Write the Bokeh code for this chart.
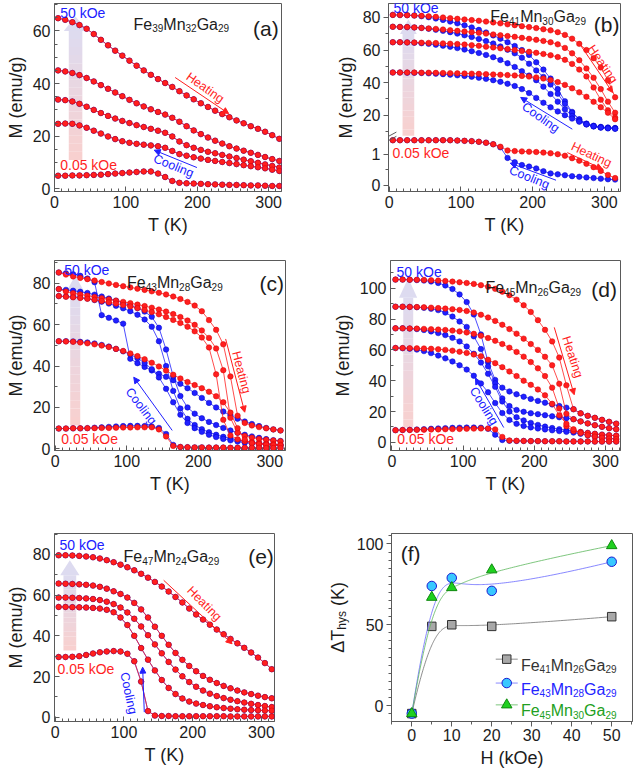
import numpy as np
from bokeh.plotting import figure
from bokeh.layouts import column, row
from bokeh.models import (Range1d, SingleIntervalTicker, FixedTicker, Label,
                          Arrow, NormalHead)
from bokeh.embed import file_html
from bokeh.resources import INLINE

# ---------------------------------------------------------------------------
# Temperature grid shared by every M(T) sweep (K)
# ---------------------------------------------------------------------------
T = [5, 15, 25, 35, 45, 55, 65, 75, 85, 95,
     105, 115, 125, 135, 145, 155, 165, 175, 185, 195,
     205, 215, 225, 235, 245, 255, 265, 275, 285, 295,
     305, 315]

# Applied fields of the sweeps, kOe: 50, 20, 10, 5, 0.05

# ---- (a) Fe39Mn32Ga29 : heating and cooling branches coincide -------------
A_50 = [64.8, 64.2, 63.3, 62.2, 60.8, 58.8, 56.6, 54.5, 52.5, 50.6,
        48.7, 46.8, 45.0, 43.3, 41.7, 40.2, 38.7, 37.1, 35.5, 34.0,
        32.5, 31.1, 29.7, 28.4, 27.2, 26.0, 24.9, 23.8, 22.8, 21.7,
        20.4, 19.0]
A_20 = [45.0, 44.6, 44.0, 43.2, 42.1, 40.8, 39.4, 38.0, 36.6, 35.2,
        33.8, 32.5, 31.3, 30.2, 29.2, 28.2, 27.0, 25.5, 23.8, 22.2,
        20.8, 19.5, 18.3, 17.2, 16.2, 15.3, 14.5, 13.7, 12.9, 12.1,
        11.3, 10.6]
A_10 = [33.9, 33.7, 33.2, 32.3, 31.2, 30.0, 28.8, 27.7, 26.7, 25.8,
        25.0, 24.2, 23.5, 22.8, 22.1, 21.3, 19.9, 18.0, 16.6, 15.6,
        14.8, 14.1, 13.5, 12.9, 12.3, 11.7, 11.1, 10.5, 9.9, 9.3,
        8.7, 8.1]
A_5 = [24.7, 24.8, 24.7, 24.1, 23.2, 22.1, 21.0, 19.9, 18.9, 18.1,
       17.5, 17.1, 16.8, 16.5, 16.2, 15.6, 14.4, 13.2, 12.6, 12.0,
       11.5, 11.0, 10.6, 10.2, 9.8, 9.4, 9.0, 8.6, 8.2, 7.8,
       7.3, 6.8]
A_005 = [5.0, 5.0, 5.1, 5.1, 5.2, 5.3, 5.4, 5.6, 5.8, 6.0,
         6.2, 6.4, 6.6, 6.6, 5.8, 4.5, 3.0, 2.3, 2.1, 2.0,
         1.9, 1.8, 1.7, 1.6, 1.5, 1.5, 1.4, 1.3, 1.3, 1.2,
         1.1, 1.1]

# ---- (b) Fe41Mn30Ga29 -------------------------------------------------------
BH_50 = [81.6, 81.5, 81.4, 81.2, 81.0, 80.7, 80.4, 80.0, 79.6, 79.2,
         78.8, 78.4, 78.0, 77.5, 77.0, 76.4, 75.8, 75.3, 74.7, 74.1,
         73.5, 72.8, 72.1, 71.0, 69.3, 67.0, 63.8, 60.0, 55.0, 49.3,
         41.5, 31.0]
BH_20 = [74.3, 74.2, 74.1, 73.9, 73.6, 73.3, 73.0, 72.6, 72.2, 71.8,
         71.4, 71.0, 70.6, 70.1, 69.6, 69.1, 68.6, 68.1, 67.5, 66.9,
         66.3, 65.6, 64.8, 63.5, 61.3, 58.0, 53.8, 48.7, 43.0, 36.0,
         28.3, 21.5]
BH_10 = [64.8, 64.8, 64.7, 64.6, 64.5, 64.4, 64.3, 64.1, 63.9, 63.7,
         63.4, 63.0, 62.6, 62.1, 61.6, 61.1, 60.6, 60.0, 59.4, 58.9,
         58.3, 57.6, 56.8, 55.7, 54.0, 51.5, 48.0, 43.8, 37.0, 29.5,
         23.0, 18.5]
BH_5 = [46.2, 46.2, 46.2, 46.2, 46.1, 46.1, 46.0, 45.9, 45.8, 45.7,
        45.6, 45.5, 45.4, 45.2, 45.0, 44.8, 44.6, 44.4, 44.1, 43.7,
        43.2, 42.5, 41.6, 40.3, 38.6, 36.5, 34.0, 31.3, 28.2, 24.9,
        21.5, 17.5]
BH_005 = [1.45, 1.45, 1.45, 1.45, 1.45, 1.45, 1.45, 1.45, 1.45, 1.44,
          1.43, 1.42, 1.40, 1.37, 1.32, 1.24, 1.12, 1.10, 1.09, 1.08,
          1.07, 1.05, 1.03, 1.00, 0.95, 0.87, 0.79, 0.69, 0.58, 0.46,
          0.33, 0.23]
BC_50 = [81.6, 81.5, 81.4, 81.2, 80.8, 80.2, 79.4, 78.5, 77.5, 76.4,
         75.2, 73.9, 72.4, 70.8, 69.0, 67.0, 64.8, 62.5, 60.0, 57.0,
         52.5, 48.0, 42.5, 36.0, 28.5, 22.0, 17.5, 14.8, 13.5, 12.8,
         12.4, 12.1]
BC_20 = [74.3, 74.2, 74.1, 73.9, 73.6, 73.1, 72.5, 71.8, 71.0, 70.1,
         69.1, 68.0, 66.8, 65.5, 64.0, 62.2, 60.2, 58.0, 55.3, 51.6,
         47.5, 43.5, 38.8, 33.2, 27.0, 21.5, 17.2, 14.6, 13.3, 12.6,
         12.2, 12.0]
BC_10 = [64.8, 64.8, 64.7, 64.5, 64.2, 63.8, 63.3, 62.7, 62.0, 61.2,
         60.3, 59.3, 58.2, 57.0, 55.6, 53.9, 51.9, 49.6, 47.0, 44.3,
         41.5, 37.5, 33.0, 28.3, 23.6, 19.5, 16.4, 14.3, 13.1, 12.4,
         12.0, 11.8]
BC_5 = [46.2, 46.2, 46.1, 46.0, 45.9, 45.7, 45.5, 45.2, 44.9, 44.5,
        44.1, 43.6, 43.0, 42.3, 41.5, 40.5, 39.3, 37.9, 36.0, 33.6,
        30.6, 27.6, 24.8, 22.3, 20.0, 17.9, 16.0, 14.4, 13.2, 12.4,
        11.9, 11.6]
BC_005 = [1.45, 1.45, 1.45, 1.45, 1.45, 1.45, 1.45, 1.45, 1.45, 1.44,
          1.43, 1.42, 1.40, 1.37, 1.32, 1.22, 0.88, 0.74, 0.65, 0.60,
          0.54, 0.45, 0.38, 0.35, 0.32, 0.29, 0.27, 0.25, 0.23, 0.21,
          0.19, 0.18]

# ---- (c) Fe43Mn28Ga29 -------------------------------------------------------
CH_50 = [85.2, 84.2, 83.3, 82.6, 82.0, 81.3, 80.6, 79.9, 79.2, 78.6,
         78.0, 77.4, 76.8, 76.1, 75.4, 74.6, 73.6, 72.4, 71.0, 69.2,
         66.5, 62.2, 57.5, 50.5, 35.0, 16.0, 12.5, 11.3, 10.5, 9.9,
         9.4, 8.9]
CH_20 = [77.2, 76.0, 75.2, 74.6, 74.0, 73.4, 72.8, 72.2, 71.6, 71.0,
         70.4, 69.7, 69.0, 68.2, 67.3, 66.3, 65.1, 63.7, 62.0, 59.9,
         57.2, 53.6, 48.5, 38.0, 15.0, 7.8, 6.2, 5.4, 4.8, 4.4,
         4.0, 3.7]
CH_10 = [73.8, 73.5, 73.2, 72.9, 72.5, 72.0, 71.4, 70.8, 70.2, 69.5,
         68.8, 68.0, 67.1, 66.1, 65.0, 63.7, 62.3, 60.8, 59.0, 56.8,
         53.8, 49.0, 36.0, 14.0, 6.5, 4.6, 3.7, 3.1, 2.7, 2.4,
         2.2, 2.0]
CH_5 = [52.0, 51.9, 51.7, 51.4, 51.0, 50.5, 49.9, 49.2, 48.3, 47.3,
        46.1, 44.8, 43.3, 41.6, 39.8, 37.8, 35.8, 34.0, 32.3, 30.8,
        29.3, 27.6, 25.4, 22.5, 17.5, 10.0, 4.5, 2.8, 2.3, 2.0,
        1.8, 1.6]
CH_005 = [9.8, 9.8, 9.9, 9.9, 10.0, 10.0, 10.1, 10.1, 10.2, 10.3,
          10.3, 10.4, 10.4, 10.4, 9.4, 6.0, 1.4, 0.9, 0.8, 0.7,
          0.7, 0.6, 0.6, 0.6, 0.5, 0.5, 0.5, 0.5, 0.5, 0.4,
          0.4, 0.4]
CC_50 = [85.2, 84.8, 84.3, 83.6, 82.3, 80.5, 64.6, 63.3, 62.0, 60.5,
         43.5, 41.4, 39.6, 37.9, 36.3, 34.8, 33.2, 31.4, 29.3, 27.0,
         24.6, 22.2, 20.0, 18.0, 16.2, 14.6, 13.2, 12.0, 11.0, 10.1,
         9.4, 8.9]
CC_20 = [77.2, 76.8, 76.4, 75.9, 75.3, 74.5, 73.6, 72.6, 71.6, 70.5,
         69.3, 68.0, 66.3, 63.8, 58.5, 48.0, 35.0, 25.5, 20.0, 17.0,
         14.8, 13.0, 11.5, 10.1, 8.9, 7.8, 6.8, 6.0, 5.3, 4.7,
         4.2, 3.8]
CC_10 = [73.8, 73.6, 73.4, 73.1, 72.6, 71.9, 71.1, 70.2, 69.1, 67.9,
         66.5, 64.8, 62.5, 59.0, 52.0, 40.0, 28.0, 19.5, 14.5, 11.5,
         9.5, 8.0, 6.8, 5.8, 5.0, 4.3, 3.7, 3.2, 2.8, 2.5,
         2.2, 2.0]
CC_5 = [52.0, 52.0, 51.9, 51.7, 51.4, 50.9, 50.2, 49.4, 48.3, 47.1,
        45.6, 43.8, 41.5, 38.5, 34.5, 29.0, 22.5, 16.5, 12.5, 10.0,
        8.2, 6.8, 5.7, 4.8, 4.1, 3.5, 3.0, 2.6, 2.3, 2.0,
        1.8, 1.6]
CC_005 = [9.8, 9.8, 9.9, 9.9, 10.0, 10.2, 10.4, 10.6, 10.8, 11.0,
          11.1, 11.1, 11.0, 10.8, 10.1, 7.2, 1.9, 0.9, 0.8, 0.7,
          0.7, 0.6, 0.6, 0.6, 0.5, 0.5, 0.5, 0.5, 0.5, 0.4,
          0.4, 0.4]

# ---- (d) Fe45Mn26Ga29 -------------------------------------------------------
DH_50 = [105.6, 105.6, 105.5, 105.5, 105.4, 105.2, 105.0, 104.7, 104.3, 103.9,
         103.4, 102.8, 102.0, 101.0, 99.6, 97.8, 95.5, 92.6, 89.0, 84.6,
         79.3, 73.0, 65.5, 55.0, 37.0, 21.5, 18.8, 17.2, 15.9, 14.6,
         13.3, 12.1]
DH_20 = [88.0, 88.0, 87.9, 87.8, 87.6, 87.4, 87.1, 86.8, 86.4, 85.9,
         85.2, 84.2, 82.8, 81.0, 78.8, 76.3, 73.5, 70.5, 67.3, 63.8,
         60.0, 55.5, 50.0, 38.0, 18.5, 15.0, 13.6, 12.3, 11.1, 10.1,
         9.2, 8.5]
DH_10 = [74.0, 74.0, 73.9, 73.8, 73.6, 73.4, 73.2, 72.9, 72.5, 72.0,
         71.3, 70.4, 69.2, 67.7, 65.9, 63.8, 61.4, 58.7, 55.6, 52.1,
         48.0, 43.0, 35.5, 22.0, 10.5, 7.3, 6.7, 6.1, 5.5, 5.0,
         4.6, 4.3]
DH_5 = [61.2, 61.2, 61.1, 61.0, 60.9, 60.7, 60.4, 60.0, 59.5, 58.8,
        58.0, 57.0, 55.8, 53.6, 51.4, 48.8, 46.0, 43.0, 40.0, 37.3,
        34.3, 30.5, 25.0, 17.5, 12.0, 8.5, 6.0, 4.6, 3.7, 3.0,
        2.5, 2.1]
DH_005 = [7.9, 8.0, 8.0, 8.1, 8.2, 8.3, 8.4, 8.5, 8.6, 8.7,
          8.8, 8.9, 9.0, 9.0, 8.4, 3.5, 1.2, 1.0, 0.9, 0.8,
          0.8, 0.7, 0.7, 0.7, 0.6, 0.6, 0.6, 0.6, 0.5, 0.5,
          0.5, 0.5]
DC_50 = [105.6, 105.6, 105.5, 105.3, 105.0, 104.4, 103.4, 101.8, 99.5, 96.0,
         91.0, 83.0, 70.0, 52.0, 40.5, 35.5, 33.0, 31.2, 29.6, 28.2,
         26.9, 25.7, 24.6, 23.6, 22.5, 21.5, 18.8, 17.2, 15.9, 14.6,
         13.3, 12.1]
DC_20 = [88.0, 88.0, 87.9, 87.7, 87.3, 86.7, 85.8, 84.2, 81.6, 78.4,
         74.9, 68.8, 60.5, 49.3, 38.3, 28.5, 23.5, 21.0, 19.8, 18.9,
         18.3, 17.6, 16.9, 16.3, 15.7, 15.0, 13.6, 12.3, 11.1, 10.1,
         9.2, 8.5]
DC_10 = [74.0, 74.0, 73.8, 73.5, 72.9, 72.0, 70.9, 69.6, 67.8, 65.5,
         62.2, 57.5, 51.8, 44.5, 36.0, 26.5, 20.0, 16.3, 14.2, 12.6,
         11.3, 10.2, 9.3, 8.5, 7.9, 7.3, 6.7, 6.1, 5.5, 5.0,
         4.6, 4.3]
DC_5 = [61.2, 61.1, 60.8, 60.2, 59.2, 57.9, 56.3, 54.5, 52.5, 50.0,
        47.2, 43.2, 38.2, 32.5, 25.5, 19.0, 14.5, 12.0, 10.6, 9.7,
        9.0, 8.4, 7.8, 7.3, 6.8, 6.3, 5.5, 4.6, 3.7, 3.0,
        2.5, 2.1]
DC_005 = [7.9, 8.0, 8.1, 8.3, 8.5, 8.8, 9.0, 9.2, 9.4, 9.5,
          9.6, 9.6, 9.5, 8.8, 5.0, 1.5, 1.0, 0.9, 0.9, 0.8,
          0.8, 0.7, 0.7, 0.7, 0.6, 0.6, 0.6, 0.6, 0.5, 0.5,
          0.5, 0.5]

# ---- (e) Fe47Mn24Ga29 : heating and cooling branches coincide -------------
E_50 = [79.6, 79.6, 79.5, 79.3, 79.0, 78.6, 78.0, 77.2, 76.2, 75.0,
        73.7, 72.2, 70.5, 68.6, 66.5, 64.2, 61.8, 59.1, 56.4, 53.4,
        50.5, 48.0, 45.5, 43.1, 40.8, 38.5, 36.3, 34.1, 31.8, 29.3,
        26.6, 23.6]
E_20 = [65.7, 65.6, 65.5, 65.3, 65.1, 64.7, 64.1, 63.2, 61.9, 60.6,
        58.8, 56.2, 53.0, 49.0, 44.5, 40.0, 35.6, 31.6, 28.2, 25.2,
        22.6, 20.3, 18.4, 16.8, 15.4, 14.2, 13.1, 12.2, 11.4, 10.6,
        9.9, 9.3]
E_10 = [58.8, 58.8, 58.7, 58.6, 58.4, 58.1, 57.6, 56.8, 55.6, 53.9,
        51.5, 48.4, 44.6, 40.3, 35.8, 31.4, 27.2, 23.4, 20.1, 17.3,
        15.0, 13.1, 11.6, 10.4, 9.4, 8.6, 7.9, 7.2, 6.6, 6.0,
        5.5, 5.0]
E_5 = [54.2, 54.2, 54.1, 54.0, 53.9, 53.7, 53.4, 52.8, 51.6, 49.0,
       45.3, 40.0, 34.0, 28.3, 23.0, 18.3, 14.4, 11.4, 9.2, 7.7,
       6.7, 6.0, 5.4, 4.9, 4.5, 4.2, 3.9, 3.7, 3.5, 3.4,
       3.3, 3.2]
E_005 = [29.6, 29.6, 29.7, 30.0, 30.6, 31.3, 31.9, 32.3, 32.5, 32.3,
         31.2, 27.5, 17.5, 3.0, 0.8, 0.6, 0.6, 0.5, 0.5, 0.5,
         0.5, 0.5, 0.5, 0.5, 0.5, 0.4, 0.4, 0.4, 0.4, 0.4,
         0.4, 0.4]

# ---- (f) thermal hysteresis width versus field ------------------------------
H = [0, 5, 10, 20, 50]                 # kOe
DT_41 = [-5, 49, 50, 49, 55]           # K
DT_43 = [-5, 74, 79, 71, 89]
DT_45 = [-5, 67, 73, 84, 99]

# ---------------------------------------------------------------------------
FONT = "Liberation Sans"
RED, RED_EDGE = "#ff1f1f", "#d60000"
BLUE, BLUE_EDGE = "#2020ff", "#0000c4"
AX = "#5a5a5a"
TXT = "#1c1c1c"

ADV = {"F": .611, "e": .556, "M": .833, "n": .556, "G": .778, "a": .556,
       "\u0394": .668, "T": .611, "h": .556, "y": .5, "s": .5, " ": .278,
       "(": .333, ")": .333, "K": .667}


def text_w(s, size):
    return sum(ADV.get(c, .556) for c in s) * size


def style_axis(ax, inward, standoff=4):
    ax.axis_line_color = AX
    ax.major_tick_line_color = AX
    ax.minor_tick_line_color = AX
    if inward:
        ax.major_tick_in, ax.major_tick_out = 5, 0
        ax.minor_tick_in, ax.minor_tick_out = 3, 0
    else:
        ax.major_tick_in, ax.major_tick_out = 0, 5
        ax.minor_tick_in, ax.minor_tick_out = 0, 3
    ax.major_label_text_font = FONT
    ax.major_label_text_font_size = "16px"
    ax.major_label_text_color = TXT
    ax.major_label_standoff = standoff
    ax.axis_label_text_font = FONT
    ax.axis_label_text_font_size = "18px"
    ax.axis_label_text_font_style = "normal"
    ax.axis_label_text_color = TXT
    ax.axis_label_standoff = 4


def make_panel(w, h, borders, xr, yr, yticker, x_in=True, y_in=True,
               xint=100, xminor=10, xlabel="T (K)", ylabel="M (emu/g)"):
    l, r, t, b = borders
    p = figure(width=w, height=h, x_range=Range1d(*xr), y_range=Range1d(*yr),
               output_backend="svg", toolbar_location=None,
               min_border_left=l, min_border_right=r,
               min_border_top=t, min_border_bottom=b)
    p.xgrid.visible = False
    p.ygrid.visible = False
    p.outline_line_color = AX
    p.xaxis[0].ticker = SingleIntervalTicker(interval=xint, num_minor_ticks=xminor)
    p.yaxis[0].ticker = yticker
    style_axis(p.xaxis[0], x_in)
    style_axis(p.yaxis[0], y_in)
    p.xaxis[0].axis_label = xlabel
    p.yaxis[0].axis_label = ylabel
    return p


def curve(p, x, y, color, edge, **kw):
    p.line(x, y, line_color=color, line_width=0.8, **kw)
    p.scatter(x, y, size=5.5, fill_color=color, line_color=edge,
              line_width=0.5, **kw)


def sweeps(p, heating, cooling, **kw):
    for m in cooling:
        curve(p, T, m, BLUE, BLUE_EDGE, **kw)
    for m in heating:
        curve(p, T, m, RED, RED_EDGE, **kw)


def mix(c0, c1, f):
    return "#%02x%02x%02x" % tuple(int(round(a + (b - a) * f)) for a, b in zip(c0, c1))


def field_arrow(p, x0, x1, y0, ybase, ytip, hx0, hx1, n=16, **kw):
    """Broad translucent arrow marking increasing field, pink to lavender."""
    bot, top = (249, 208, 206), (221, 219, 240)
    ys = np.linspace(y0, ybase, n + 1)
    cols = [mix(bot, top, (i + 0.5) / n) for i in range(n)]
    p.quad(left=[x0] * n, right=[x1] * n, bottom=list(ys[:-1]), top=list(ys[1:]),
           fill_color=cols, line_color=None, **kw)
    p.patch([hx0, 0.5 * (x0 + x1), hx1], [ybase, ytip, ybase],
            fill_color=mix(bot, top, 1.0), line_color=None, **kw)


def label(p, x, y, text, size, color=TXT, align="left", baseline="middle",
          angle=0, xo=0, yo=0, **kw):
    p.add_layout(Label(x=x, y=y, x_offset=xo, y_offset=yo, text=text,
                       text_font=FONT, text_font_size=f"{size}px",
                       text_color=color, text_align=align,
                       text_baseline=baseline, angle=angle,
                       angle_units="deg", **kw))


def formula(p, x, y, parts, size=16, sub=10, color=TXT, xo=0, yo=0, **kw):
    off = 0.0
    for txt, is_sub in parts:
        fs = sub if is_sub else size
        label(p, x, y, txt, fs, color, baseline="alphabetic",
              xo=xo + off, yo=yo - (4 if is_sub else 0), **kw)
        off += text_w(txt, fs)


def arrow(p, xs, ys, xe, ye, color, **kw):
    p.add_layout(Arrow(x_start=xs, y_start=ys, x_end=xe, y_end=ye,
                       line_color=color, line_width=1,
                       end=NormalHead(size=6, fill_color=color, line_color=color),
                       **kw))


def comp(fe, mn, ga):
    return [("Fe", 0), (fe, 1), ("Mn", 0), (mn, 1), ("Ga", 0), (ga, 1)]


# ------------------------------- panel (a) ---------------------------------
pa = make_panel(317, 255, (54, 36, 2, 62), (0, 318), (-1, 70.4),
                SingleIntervalTicker(interval=20, num_minor_ticks=4))
field_arrow(pa, 20, 39, 11, 60, 65.5, 13, 46)
A_HEAT = [A_50, A_20, A_10, A_5, A_005]
A_COOL = A_HEAT
sweeps(pa, A_HEAT, A_COOL)
label(pa, 8, 66.9, "50 kOe", 14, BLUE)
label(pa, 8, 9.1, "0.05 kOe", 14, RED)
formula(pa, 110.7, 62.5, comp("39", "32", "29"))
label(pa, 314, 61, "(a)", 21, align="right", baseline="alphabetic")
arrow(pa, 169, 42.3, 244, 28.6, RED)
label(pa, 211, 38.4, "Heating", 12.5, RED, align="center", angle=-35)
arrow(pa, 199.5, 8.1, 139.7, 14.7, BLUE)
label(pa, 166.8, 8.7, "Cooling", 12.5, BLUE, align="center", angle=-22)

# ------------------------------- panel (b) ---------------------------------
# Broken M axis: the four high-field sweeps use the default range, the
# 0.05 kOe sweep uses the "low" range laid over the bottom of the frame.
B_MAIN = (-26.9, 88.6)
B_LOW = (-0.204, 5.86)


def low_to_main(v):
    f = (v - B_LOW[0]) / (B_LOW[1] - B_LOW[0])
    return round(B_MAIN[0] + f * (B_MAIN[1] - B_MAIN[0]), 3)


b_major = [0, 1]
b_ticks = [low_to_main(v) for v in b_major] + [20, 40, 60, 80]
b_minor = [low_to_main(0.5), 10, 30, 50, 70]
pb = make_panel(317, 255, (71, 14, 3, 64), (-1, 322.5), B_MAIN,
                FixedTicker(ticks=b_ticks, minor_ticks=b_minor), y_in=False)
pb.yaxis[0].major_label_standoff = 3
pb.yaxis[0].major_label_overrides = {t: str(v) for t, v in
                                     zip(b_ticks, b_major + [20, 40, 60, 80])}
pb.extra_y_ranges = {"low": Range1d(*B_LOW)}
field_arrow(pb, 18.6, 34.9, 7.3, 69.8, 79, 15, 38.5)
sweeps(pb, [BH_50, BH_20, BH_10, BH_5], [BC_50, BC_20, BC_10, BC_5])
sweeps(pb, [BH_005], [BC_005], y_range_name="low")
# axis break marks
for dy in (0.0, -2.6):
    pb.add_layout(Arrow(x_start=-1, y_start=7.0 + dy, x_end=10, y_end=9.6 + dy,
                        start=None, end=None, line_color=AX, line_width=1))
label(pb, 6, 85.9, "50 kOe", 14, BLUE)
label(pb, 4.7, 1.05, "0.05 kOe", 14, RED, y_range_name="low")
formula(pb, 141, 80.4, comp("41", "30", "29"))
label(pb, 321, 75.4, "(b)", 21, align="right", baseline="alphabetic")
arrow(pb, 267.4, 62.6, 311.6, 33.9, RED)
label(pb, 297.7, 51.3, "Heating", 12.5, RED, align="center", angle=-56)
arrow(pb, 255.3, 11.4, 183.3, 30.9, BLUE)
label(pb, 211, 18.6, "Cooling", 12.5, BLUE, align="center", angle=-35)
arrow(pb, 248.4, 1.05, 297.2, 0.52, RED, y_range_name="low")
label(pb, 281.9, 0.98, "Heating", 12.5, RED, align="center", angle=-25,
      y_range_name="low")
arrow(pb, 232.6, 0.16, 168.8, 0.71, BLUE, y_range_name="low")
label(pb, 195.3, 0.25, "Cooling", 12.5, BLUE, align="center", angle=-22,
      y_range_name="low")

# ------------------------------- panel (c) ---------------------------------
pc = make_panel(317, 255, (54, 32, 5, 60), (-1, 322), (-0.8, 91),
                SingleIntervalTicker(interval=20, num_minor_ticks=2))
field_arrow(pc, 21, 35, 11.3, 76.5, 83.7, 16.4, 39.7)
sweeps(pc, [CH_50, CH_20, CH_10, CH_5, CH_005], [CC_50, CC_20, CC_10, CC_5, CC_005])
label(pc, 12.6, 86.3, "50 kOe", 14, BLUE)
label(pc, 8.4, 4.7, "0.05 kOe", 14, RED)
formula(pc, 100.5, 80.3, comp("43", "28", "29"))
label(pc, 320, 79.7, "(c)", 21, align="right", baseline="alphabetic")
arrow(pc, 238.3, 53.1, 265, 17.7, RED)
label(pc, 260.3, 37, "Heating", 12.5, RED, align="center", angle=-75)
arrow(pc, 163.6, 8.9, 109.8, 34.6, BLUE)
label(pc, 120, 20.6, "Cooling", 12.5, BLUE, align="center", angle=-53)

# ------------------------------- panel (d) ---------------------------------
pd = make_panel(317, 255, (73, 14, 4, 58), (-2, 321), (-5.3, 118),
                SingleIntervalTicker(interval=20, num_minor_ticks=2))
field_arrow(pd, 15.9, 29.9, 9.6, 93.8, 106.6, 10, 35.5)
sweeps(pd, [DH_50, DH_20, DH_10, DH_5, DH_005], [DC_50, DC_20, DC_10, DC_5, DC_005])
label(pd, 6.5, 110.7, "50 kOe", 14, BLUE)
label(pd, 7.5, 2.3, "0.05 kOe", 14, RED)
formula(pd, 131.3, 100.2, comp("45", "26", "29"))
label(pd, 316, 99.1, "(d)", 21, align="right", baseline="alphabetic")
arrow(pd, 228, 74.6, 256, 30.9, RED)
label(pd, 253.7, 55.4, "Heating", 12.5, RED, align="center", angle=-72)
arrow(pd, 157, 9.6, 117.3, 41.6, BLUE)
label(pd, 129, 23.5, "Cooling", 12.5, BLUE, align="center", angle=-58)

# ------------------------------- panel (e) ---------------------------------
pe = make_panel(317, 260, (54, 43, 23, 49), (-1, 319), (-2.1, 90.3),
                SingleIntervalTicker(interval=20, num_minor_ticks=2))
field_arrow(pe, 12, 30.6, 32.8, 69.8, 77.2, 7.3, 35.4)
E_HEAT = [E_50, E_20, E_10, E_5, E_005]
E_COOL = E_HEAT
sweeps(pe, E_HEAT, E_COOL)
label(pe, 6.3, 84.7, "50 kOe", 14, BLUE)
label(pe, 3.4, 23.5, "0.05 kOe", 14, RED)
formula(pe, 99.5, 78.8, comp("47", "24", "29"))
label(pe, 318, 78.8, "(e)", 21, align="right", baseline="alphabetic")
arrow(pe, 157.8, 67.3, 257.3, 36.1, RED)
label(pe, 217, 55.8, "Heating", 12.5, RED, align="center", angle=-45)
arrow(pe, 129.6, 2.5, 127.2, 24.6, BLUE)
label(pe, 106.8, 11.8, "Cooling", 12.5, BLUE, align="center", angle=-78)

# ------------------------------- panel (f) ---------------------------------
# narrow strip carrying the rotated axis title (it has a subscript)
STRIP_W = 36
strip = figure(width=STRIP_W, height=260, x_range=Range1d(0, STRIP_W),
               y_range=Range1d(0, 260), output_backend="svg",
               toolbar_location=None, x_axis_type=None, y_axis_type=None,
               min_border_left=0, min_border_right=0, min_border_top=0,
               min_border_bottom=0)
strip.outline_line_color = None
strip.xgrid.visible = False
strip.ygrid.visible = False
# (text, is_subscript, gap before it in px)
yl_parts = [("\u0394T", 0, 0.0), ("hys", 1, 0.0), ("(K)", 0, 5.0)]
yl_len = sum(text_w(s, 12 if sub else 18) + gap for s, sub, gap in yl_parts)
off = -yl_len / 2
for s, sub, gap in yl_parts:
    fs = 12 if sub else 18
    off += gap
    label(strip, 20, 144, s, fs, baseline="alphabetic", angle=90,
          xo=(4 if sub else 0), yo=off)
    off += text_w(s, fs)

pf = make_panel(317 - STRIP_W, 260, (74 - STRIP_W, 2, 15, 49), (-5.07, 55.2),
                (-9.9, 106.5),
                SingleIntervalTicker(interval=50, num_minor_ticks=10),
                x_in=False, y_in=False, xint=10, xminor=2,
                xlabel="H (kOe)", ylabel="")
pf.xaxis[0].major_label_standoff = 2
pf.yaxis[0].major_label_standoff = 3


def bspline(px, py, k=3, n=160):
    """Clamped cubic B-spline with (px, py) as control points."""
    px = np.asarray(px, float)
    py = np.asarray(py, float)
    m = len(px)
    inner = np.linspace(0, 1, m - k + 1)[1:-1]
    t = np.r_[np.zeros(k + 1), inner, np.ones(k + 1)]
    u = np.linspace(0, 1, n)
    nb = len(t) - 1
    B = np.zeros((n, nb))
    for i in range(nb):
        B[:, i] = (t[i] <= u) & (u < t[i + 1])
    last = max(i for i in range(nb) if t[i] < t[i + 1])
    B[u >= 1.0, last] = 1.0
    for d in range(1, k + 1):
        Bn = np.zeros((n, nb - d))
        for i in range(nb - d):
            a = (u - t[i]) / (t[i + d] - t[i]) if t[i + d] > t[i] else 0.0
            c = ((t[i + d + 1] - u) / (t[i + d + 1] - t[i + 1])
                 if t[i + d + 1] > t[i + 1] else 0.0)
            Bn[:, i] = a * B[:, i] + c * B[:, i + 1]
        B = Bn
    return list(B @ px), list(B @ py)


SERIES_F = [
    (DT_41, "#707070", "square", 8.5, "#a8a8a8", "#333333", "#333333", ("41", "26", "29"), 28.7),
    (DT_43, "#6a6aff", "circle", 9.5, "#38c8ff", "#1a1ad0", "#2424ff", ("43", "28", "29"), 13.9),
    (DT_45, "#5db85d", "triangle", 10.5, "#1fd01f", "#0f8a0f", "#22a022", ("45", "30", "29"), 0.4),
]
for dt, lc, mk, sz, fc, ec, tc, cmp_, ly in SERIES_F:
    sx, sy = bspline(H, dt)
    pf.line(sx, sy, line_color=lc, line_width=0.8)
    pf.scatter(H, dt, marker=mk, size=sz, fill_color=fc, line_color=ec, line_width=1)
    # legend entry
    pf.line([21, 26.5], [ly, ly], line_color=lc, line_width=0.8)
    pf.scatter([23.75], [ly], marker=mk, size=sz, fill_color=fc, line_color=ec, line_width=1)
    formula(pf, 27.3, ly, comp(*cmp_), color=tc, yo=-6)

label(pf, -2.75, 94, "(f)", 21, baseline="alphabetic")

layout = column(row(pa, pb), row(pc, pd), row(pe, strip, pf))
open("out.html", "w").write(file_html(layout, INLINE))
